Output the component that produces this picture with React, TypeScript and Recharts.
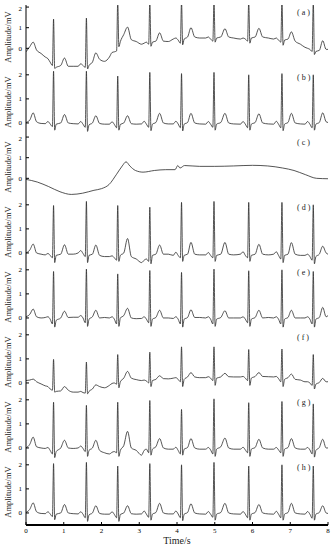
import { LineChart, Line, XAxis, YAxis } from "recharts"

// sample times (s) shared by the beat panels: leading T wave, then 9 beats
// each beat: P start, P peak, P end, Q, R, S, ST, T start, T peak, T end, baseline
const beatTimes = [
  0.0, 0.1, 0.19, 0.28, 0.4,
  0.51, 0.58, 0.64, 0.7, 0.73, 0.76, 0.8, 0.92, 1.02, 1.12, 1.25,
  1.38, 1.45, 1.51, 1.57, 1.6, 1.63, 1.67, 1.76, 1.85, 1.95, 2.08,
  2.21, 2.28, 2.34, 2.4, 2.43, 2.46, 2.5, 2.59, 2.69, 2.79, 2.92,
  3.06, 3.13, 3.19, 3.25, 3.28, 3.31, 3.35, 3.44, 3.54, 3.64, 3.77,
  3.9, 3.97, 4.03, 4.09, 4.12, 4.15, 4.19, 4.28, 4.37, 4.47, 4.6,
  4.76, 4.83, 4.89, 4.95, 4.98, 5.01, 5.05, 5.16, 5.27, 5.37, 5.5,
  5.68, 5.75, 5.81, 5.87, 5.9, 5.93, 5.97, 6.07, 6.17, 6.27, 6.42,
  6.56, 6.63, 6.69, 6.75, 6.78, 6.81, 6.85, 6.94, 7.03, 7.13, 7.27,
  7.39, 7.46, 7.52, 7.58, 7.61, 7.64, 7.68, 7.77, 7.86, 7.95, 8.0,
]

// (a) noisy ECG with baseline wander
const sigA = [
  -0.17, 0.08, 0.3, -0.08, -0.25,
  -0.42, -0.5, -0.67, -0.83, 1.42, -0.97, -0.92, -0.83, -0.47, -0.87, -0.87,
  -0.87, -0.75, -0.83, -0.92, 1.47, -1.0, -0.83, -0.67, -0.22, -0.53, -0.63,
  -0.42, -0.2, -0.17, -0.13, 2.3, 0.08, 0.33, 0.67, 1.03, 0.42, 0.33,
  0.2, 0.25, 0.3, 0.2, 2.3, 0.1, 0.3, 0.35, 0.75, 0.35, 0.33,
  0.45, 0.5, 0.4, 0.25, 2.3, 0.17, 0.45, 0.55, 1.0, 0.55, 0.5,
  0.5, 0.55, 0.45, 0.35, 2.3, 0.3, 0.5, 0.55, 0.95, 0.55, 0.5,
  0.45, 0.5, 0.45, 0.35, 2.3, 0.25, 0.5, 0.55, 0.97, 0.55, 0.5,
  0.45, 0.5, 0.4, 0.3, 2.3, 0.15, 0.4, 0.45, 0.8, 0.35, 0.2,
  0.05, 0.0, -0.05, -0.15, 2.3, -0.3, -0.15, -0.1, 0.37, -0.05, -0.05,
]

// (b) clean ECG
const sigB = [
  0.02, 0.12, 0.42, 0.05, -0.02,
  -0.03, 0.06, -0.04, -0.15, 2.15, -0.3, -0.05, 0.0, 0.35, 0.0, -0.03,
  -0.04, 0.06, -0.05, -0.18, 2.15, -0.35, -0.08, 0.0, 0.3, -0.02, -0.05,
  -0.05, 0.05, -0.06, -0.2, 1.95, -0.3, -0.06, 0.0, 0.3, -0.03, -0.05,
  -0.04, 0.07, -0.05, -0.18, 2.1, -0.32, -0.05, 0.02, 0.4, 0.0, -0.04,
  -0.04, 0.07, -0.04, -0.2, 2.05, -0.33, -0.05, 0.02, 0.4, 0.0, -0.04,
  -0.05, 0.06, -0.05, -0.18, 2.1, -0.3, -0.05, 0.02, 0.4, 0.0, -0.04,
  -0.05, 0.06, -0.05, -0.2, 2.0, -0.3, -0.05, 0.02, 0.38, 0.0, -0.04,
  -0.05, 0.07, -0.05, -0.2, 2.05, -0.32, -0.05, 0.02, 0.4, 0.0, -0.04,
  -0.05, 0.06, -0.05, -0.2, 2.0, -0.3, -0.05, 0.02, 0.42, 0.05, 0.02,
]

// (c) baseline wander, its own time grid
const wanderTimes = [
  0, 0.3, 0.6, 0.9, 1.2, 1.5, 1.8, 2.0, 2.2, 2.4, 2.55, 2.65, 2.75, 2.9, 3.1, 3.4,
  3.7, 3.95, 4.02, 4.08, 4.2, 4.6, 5.0, 5.5, 6.0, 6.4, 6.8, 7.1, 7.4, 7.7, 8.0,
]
const sigC = [
  -0.05, -0.18, -0.4, -0.65, -0.78, -0.72, -0.58, -0.5, -0.3, 0.2, 0.6, 0.8, 0.6, 0.38, 0.3, 0.38,
  0.42, 0.42, 0.62, 0.5, 0.62, 0.58, 0.58, 0.6, 0.63, 0.6, 0.5, 0.38, 0.18, 0.0, -0.02,
]

const sigD = [
  0.0, 0.12, 0.37, 0.0, -0.05,
  -0.08, -0.02, -0.1, -0.2, 1.97, -0.4, -0.1, -0.05, 0.34, -0.05, -0.05,
  0.0, 0.1, -0.02, -0.15, 2.14, -0.4, -0.1, -0.05, 0.33, -0.1, -0.15,
  -0.15, -0.12, -0.2, -0.3, 1.97, -0.35, -0.1, 0.0, 0.6, -0.15, -0.25,
  -0.4, -0.3, -0.25, -0.35, 1.9, -0.45, -0.1, -0.05, 0.33, -0.05, -0.05,
  -0.1, 0.03, -0.1, -0.2, 2.1, -0.35, -0.1, -0.05, 0.44, -0.05, -0.08,
  -0.08, 0.02, -0.1, -0.2, 2.14, -0.35, -0.1, -0.05, 0.44, -0.05, -0.08,
  -0.05, 0.05, -0.1, -0.2, 2.1, -0.35, -0.1, -0.05, 0.36, -0.05, -0.08,
  -0.05, 0.05, -0.1, -0.25, 2.1, -0.4, -0.1, -0.05, 0.43, -0.05, -0.1,
  -0.1, -0.05, -0.15, -0.3, 2.0, -0.45, -0.15, -0.05, 0.28, 0.0, -0.05,
]

const sigE = [
  0.05, 0.15, 0.37, 0.05, 0.0,
  0.02, 0.05, -0.05, -0.25, 1.93, -0.38, -0.1, 0.0, 0.28, 0.02, 0.03,
  0.03, 0.1, 0.0, -0.2, 2.03, -0.35, -0.05, 0.05, 0.32, 0.0, 0.02,
  0.0, 0.05, -0.05, -0.25, 1.83, -0.35, 0.0, 0.1, 0.4, 0.0, -0.03,
  -0.02, 0.05, -0.05, -0.2, 1.97, -0.35, -0.05, 0.02, 0.32, 0.0, 0.0,
  -0.02, 0.05, -0.05, -0.25, 1.89, -0.38, -0.05, 0.02, 0.34, 0.02, 0.02,
  0.0, 0.05, -0.05, -0.25, 2.03, -0.35, -0.05, 0.02, 0.3, 0.0, 0.0,
  0.0, 0.05, -0.05, -0.2, 1.96, -0.35, -0.05, 0.02, 0.32, 0.0, 0.02,
  0.0, 0.05, -0.05, -0.25, 2.0, -0.38, -0.05, 0.02, 0.32, 0.0, 0.0,
  0.0, 0.05, -0.05, -0.25, 1.93, -0.38, -0.05, 0.02, 0.44, 0.05, 0.1,
]

const sigF = [
  0.1, 0.12, 0.16, 0.05, -0.04,
  -0.12, -0.15, -0.25, -0.3, 0.98, -0.38, -0.35, -0.33, -0.15, -0.3, -0.38,
  -0.38, -0.35, -0.4, -0.42, 0.87, -0.45, -0.35, -0.25, -0.08, -0.15, -0.2,
  -0.1, -0.02, 0.0, -0.05, 1.18, -0.2, 0.05, 0.2, 0.48, 0.2, 0.14,
  0.1, 0.12, 0.08, 0.0, 1.28, -0.15, 0.1, 0.15, 0.3, 0.18, 0.17,
  0.2, 0.22, 0.15, 0.05, 1.5, -0.15, 0.15, 0.25, 0.43, 0.25, 0.22,
  0.22, 0.26, 0.2, 0.1, 1.5, -0.1, 0.2, 0.25, 0.4, 0.26, 0.25,
  0.25, 0.27, 0.2, 0.1, 1.39, -0.1, 0.2, 0.27, 0.43, 0.27, 0.26,
  0.25, 0.27, 0.18, 0.05, 1.41, -0.15, 0.15, 0.22, 0.37, 0.15, 0.12,
  0.05, 0.05, 0.0, -0.1, 1.18, -0.25, -0.05, 0.02, 0.19, 0.05, 0.05,
]

const sigG = [
  0.0, 0.15, 0.45, 0.05, 0.0,
  -0.02, 0.02, -0.1, -0.25, 1.9, -0.4, -0.15, 0.0, 0.32, 0.0, -0.02,
  0.0, 0.08, -0.02, -0.15, 1.77, -0.35, -0.1, 0.0, 0.32, -0.1, -0.2,
  -0.25, -0.18, -0.15, -0.2, 1.9, -0.35, -0.1, 0.1, 0.69, 0.0, -0.1,
  -0.3, -0.1, -0.05, -0.2, 1.97, -0.3, -0.05, 0.05, 0.39, 0.0, -0.05,
  -0.05, 0.03, -0.1, -0.25, 1.6, -0.3, -0.05, 0.02, 0.39, 0.0, -0.05,
  -0.05, 0.02, -0.08, -0.25, 2.04, -0.35, -0.05, 0.05, 0.41, 0.0, -0.05,
  -0.05, 0.03, -0.08, -0.2, 1.88, -0.35, -0.05, 0.02, 0.36, 0.0, -0.05,
  -0.05, 0.02, -0.08, -0.2, 1.93, -0.35, -0.05, 0.02, 0.39, 0.0, -0.05,
  -0.05, 0.02, -0.08, -0.25, 1.83, -0.38, -0.1, 0.02, 0.36, 0.0, 0.0,
]

const sigH = [
  0.02, 0.15, 0.42, 0.05, -0.02,
  -0.03, 0.05, -0.04, -0.15, 2.05, -0.28, -0.05, 0.0, 0.35, 0.0, -0.03,
  -0.04, 0.05, -0.05, -0.2, 2.1, -0.35, -0.08, 0.0, 0.3, -0.02, -0.05,
  -0.05, 0.05, -0.06, -0.2, 1.95, -0.35, -0.06, 0.0, 0.3, -0.03, -0.05,
  -0.04, 0.08, -0.05, -0.18, 2.05, -0.3, -0.05, 0.02, 0.4, 0.0, -0.04,
  -0.04, 0.08, -0.04, -0.2, 2.0, -0.32, -0.05, 0.02, 0.38, 0.0, -0.04,
  -0.05, 0.06, -0.05, -0.18, 2.1, -0.3, -0.05, 0.02, 0.4, 0.0, -0.04,
  -0.05, 0.06, -0.05, -0.2, 1.95, -0.3, -0.05, 0.02, 0.35, 0.0, -0.04,
  -0.05, 0.07, -0.05, -0.2, 2.0, -0.3, -0.05, 0.02, 0.4, 0.0, -0.04,
  -0.05, 0.06, -0.05, -0.22, 1.95, -0.3, -0.05, 0.02, 0.3, 0.0, -0.02,
]

const xTicks = [0, 1, 2, 3, 4, 5, 6, 7, 8]

const panels = [
  { id: "a", times: beatTimes, vals: sigA, domain: [-1.05, 2.1], ticks: [-1, 0, 1, 2] },
  { id: "b", times: beatTimes, vals: sigB, domain: [-0.5, 2.2], ticks: [0, 1, 2] },
  { id: "c", times: wanderTimes, vals: sigC, domain: [-1.05, 2.1], ticks: [-1, 0, 1, 2] },
  { id: "d", times: beatTimes, vals: sigD, domain: [-0.5, 2.2], ticks: [0, 1, 2] },
  { id: "e", times: beatTimes, vals: sigE, domain: [-0.5, 2.2], ticks: [0, 1, 2] },
  { id: "f", times: beatTimes, vals: sigF, domain: [-0.5, 2.2], ticks: [0, 1, 2] },
  { id: "g", times: beatTimes, vals: sigG, domain: [-0.5, 2.2], ticks: [0, 1, 2] },
  { id: "h", times: beatTimes, vals: sigH, domain: [-0.5, 2.2], ticks: [0, 1, 2] },
]

const TOP = 5
const PANEL_H = 65
const serif = '"Liberation Serif", "Times New Roman", serif'
const tickFont = { fontSize: 7, fill: "#000", fontFamily: serif }

export default function App() {
  return (
    <div style={{ position: "absolute", left: 0, top: 0, width: 334, height: 550, background: "#fff", fontFamily: serif }}>
      <style>{`.recharts-surface{overflow:visible}`}</style>
      {panels.map((p, i) => {
        const last = i === panels.length - 1
        const top = TOP + i * PANEL_H
        const data = p.times.map((t, k) => ({ t, v: p.vals[k] }))
        return (
          <div key={p.id}>
            <div style={{ position: "absolute", left: 0, top }}>
              <LineChart
                width={334}
                height={last ? PANEL_H + 26 : PANEL_H}
                data={data}
                margin={{ top: 0, right: 6, bottom: 0, left: 0 }}
              >
                <XAxis
                  dataKey="t"
                  type="number"
                  domain={[0, 8]}
                  ticks={xTicks}
                  allowDataOverflow
                  height={last ? 26 : 0}
                  tick={last ? tickFont : false}
                  tickSize={-3}
                  tickMargin={6}
                  axisLine={{ stroke: "#000", strokeWidth: 2 }}
                  tickLine={{ stroke: "#000" }}
                />
                {i === 0 && (
                  <XAxis
                    xAxisId="top"
                    orientation="top"
                    dataKey="t"
                    type="number"
                    domain={[0, 8]}
                    height={0}
                    tick={false}
                    tickLine={false}
                    axisLine={{ stroke: "#000" }}
                  />
                )}
                <YAxis
                  yAxisId="l"
                  type="number"
                  domain={p.domain}
                  ticks={p.ticks}
                  allowDataOverflow
                  width={26}
                  tick={tickFont}
                  tickSize={-3}
                  tickMargin={7}
                  axisLine={{ stroke: "#000" }}
                  tickLine={{ stroke: "#000" }}
                />
                <YAxis
                  yAxisId="r"
                  orientation="right"
                  width={0}
                  tick={false}
                  tickLine={false}
                  axisLine={{ stroke: "#000" }}
                />
                <Line
                  yAxisId="l"
                  dataKey="v"
                  type="monotone"
                  stroke="#2a2a2a"
                  strokeWidth={0.8}
                  dot={false}
                  isAnimationActive={false}
                />
              </LineChart>
            </div>
            <div
              style={{
                position: "absolute",
                left: 8,
                top: top + 32,
                transform: "translate(-50%, -50%) rotate(-90deg)",
                fontSize: 8.5,
                whiteSpace: "nowrap",
                color: "#222",
              }}
            >
              Amplitude/mV
            </div>
            <div style={{ position: "absolute", left: 297, top: top + 3, fontSize: 8, color: "#222", whiteSpace: "pre" }}>
              {`( ${p.id} )`}
            </div>
          </div>
        )
      })}
      <div style={{ position: "absolute", left: 177, top: 535, transform: "translateX(-50%)", fontSize: 10, color: "#222" }}>
        Time/s
      </div>
    </div>
  )
}
